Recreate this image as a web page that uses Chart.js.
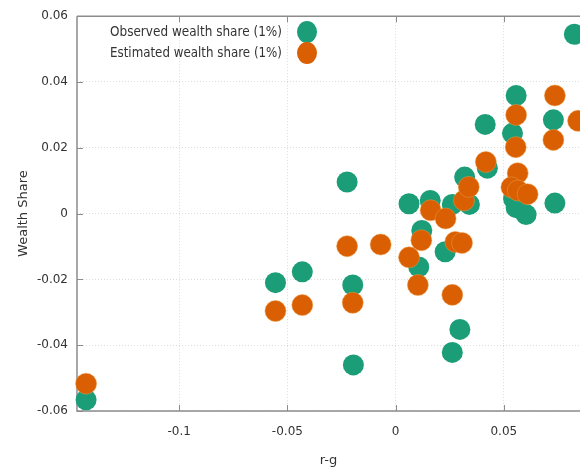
<!DOCTYPE html>
<html>
<head>
<meta charset="utf-8">
<script src="https://cdn.jsdelivr.net/npm/chart.js@4.4.1/dist/chart.umd.min.js"></script>
<style>
    html, body { margin: 0; padding: 0; background: #fff; }
    #wealth-chart { display: block; }
</style>
</head>
<body>
<canvas id="wealth-chart" width="580" height="467"></canvas>
<script>
// r-g on x, change in top 1% wealth share on y
const observedX = [-0.143, -0.0555, -0.0431, -0.0224, -0.0198, -0.0195, 0.0062, 0.0160, 0.0121,
    0.0107, 0.0229, 0.0262, 0.0319, 0.0341, 0.0297, 0.0262, 0.0414, 0.0424, 0.0557, 0.0540,
    0.0545, 0.0557, 0.0603, 0.0729, 0.0736, 0.0826];
const observedY = [-0.0566, -0.0210, -0.0177, 0.0096, -0.0217, -0.0460, 0.0030, 0.0040, -0.0051,
    -0.0162, -0.0116, 0.0028, 0.0111, 0.0028, -0.0352, -0.0422, 0.0271, 0.0138, 0.0359, 0.0244,
    0.0045, 0.0018, -0.0003, 0.0285, 0.0032, 0.0545];
const estimatedX = [-0.143, -0.0555, -0.0431, -0.0224, -0.0069, -0.0198, 0.0062, 0.0119, 0.0103,
    0.0162, 0.0231, 0.0276, 0.0307, 0.0262, 0.0316, 0.0338, 0.0417, 0.0557, 0.0555, 0.0564,
    0.0535, 0.0565, 0.0610, 0.0736, 0.0729, 0.0843];
const estimatedY = [-0.0517, -0.0296, -0.0278, -0.0099, -0.0094, -0.0271, -0.0133, -0.0081, -0.0217,
    0.0010, -0.0015, -0.0086, -0.0089, -0.0247, 0.0040, 0.0081, 0.0157, 0.0300, 0.0202, 0.0123,
    0.0080, 0.0070, 0.0059, 0.0359, 0.0224, 0.0282];
const seriesLabels = ["Observed wealth share (1%)", "Estimated wealth share (1%)"];
const xTicks = [-0.1, -0.05, 0, 0.05];
const yTicks = [-0.06, -0.04, -0.02, 0, 0.02, 0.04, 0.06];

const green = '#1b9e77';
const orange = '#d95f02';
const fontFamily = "'DejaVu Sans', 'Noto Sans', sans-serif";

const toPoints = (xs, ys) => xs.map((x, i) => ({ x: x, y: ys[i] }));
const fmt = v => String(parseFloat(v.toFixed(3)));

// gnuplot style frame: solid axes, top border, inward tick marks
const framePlugin = {
    id: 'frame',
    beforeDatasetsDraw(chart) {
        const { ctx, chartArea: a, scales } = chart;
        ctx.save();
        ctx.strokeStyle = '#8c8c8c';
        ctx.lineWidth = 1.5;
        ctx.beginPath();
        ctx.moveTo(a.left, a.top);
        ctx.lineTo(a.right, a.top);
        ctx.moveTo(a.left, a.top);
        ctx.lineTo(a.left, a.bottom);
        ctx.lineTo(a.right, a.bottom);
        ctx.stroke();
        ctx.lineWidth = 1;
        ctx.beginPath();
        xTicks.forEach(t => {
            const px = Math.round(scales.x.getPixelForValue(t)) + 0.5;
            ctx.moveTo(px, a.bottom);
            ctx.lineTo(px, a.bottom - 6);
            ctx.moveTo(px, a.top);
            ctx.lineTo(px, a.top + 6);
        });
        yTicks.forEach(t => {
            const py = Math.round(scales.y.getPixelForValue(t)) + 0.5;
            ctx.moveTo(a.left, py);
            ctx.lineTo(a.left + 6, py);
        });
        ctx.stroke();
        ctx.restore();
    }
};

// legend inside the plot, text right aligned with the marker on its right
const keyPlugin = {
    id: 'key',
    afterDraw(chart) {
        const ctx = chart.ctx;
        ctx.save();
        ctx.font = "14px " + fontFamily;
        ctx.fillStyle = '#333';
        ctx.textBaseline = 'middle';
        const rows = [[seriesLabels[0], green, 32], [seriesLabels[1], orange, 53]];
        rows.forEach(([text, color, y]) => {
            const w = ctx.measureText(text).width;
            const target = 172;
            ctx.save();
            ctx.translate(282, y);
            ctx.scale(target / w, 1);
            ctx.textAlign = 'right';
            ctx.fillText(text, 0, 0);
            ctx.restore();
            ctx.beginPath();
            ctx.ellipse(307, y, 10, 11, 0, 0, Math.PI * 2);
            ctx.fillStyle = color;
            ctx.fill();
            ctx.fillStyle = '#333';
        });
        ctx.restore();
    }
};

const wealthCanvas = document.getElementById('wealth-chart');
const wealthChart = new Chart(wealthCanvas, {
    type: 'scatter',
    data: {
        datasets: [{
            label: seriesLabels[0],
            data: toPoints(observedX, observedY),
            backgroundColor: green,
            borderWidth: 0,
            pointRadius: 10.5,
            order: 1,
            clip: false
        }, {
            label: seriesLabels[1],
            data: toPoints(estimatedX, estimatedY),
            backgroundColor: orange,
            borderColor: '#eb9a45',
            borderWidth: 0.5,
            pointRadius: 10.5,
            order: 0,
            clip: false
        }]
    },
    options: {
        responsive: false,
        animation: false,
        devicePixelRatio: 1,
        layout: {
            autoPadding: false,
            padding: { top: 14, right: 0, bottom: 0, left: 0 }
        },
        scales: {
            x: {
                type: 'linear',
                min: -0.1472,
                max: 0.0852,
                afterFit: scale => { scale.height = 56; },
                ticks: {
                    stepSize: 0.05,
                    includeBounds: false,
                    padding: 14,
                    color: '#333',
                    font: { family: fontFamily, size: 12 },
                    callback: v => fmt(v)
                },
                grid: { color: '#dcdcdc', drawTicks: false },
                border: { display: false, dash: [1, 2] },
                title: {
                    display: true,
                    text: 'r-g',
                    color: '#333',
                    font: { family: fontFamily, size: 13 },
                    padding: { top: 0, bottom: -1 }
                }
            },
            y: {
                min: -0.06,
                max: 0.06,
                afterFit: scale => { scale.width = 77; },
                ticks: {
                    stepSize: 0.02,
                    padding: 9,
                    color: '#333',
                    font: { family: fontFamily, size: 12 },
                    callback: v => fmt(v)
                },
                grid: { color: '#dcdcdc', drawTicks: false },
                border: { display: false, dash: [1, 2] },
                title: {
                    display: true,
                    text: 'Wealth Share',
                    color: '#333',
                    font: { family: fontFamily, size: 13 },
                    padding: { top: 16, bottom: 0 }
                }
            }
        },
        plugins: {
            legend: { display: false },
            tooltip: { enabled: false }
        }
    },
    plugins: [framePlugin, keyPlugin]
});
</script>
</body>
</html>
